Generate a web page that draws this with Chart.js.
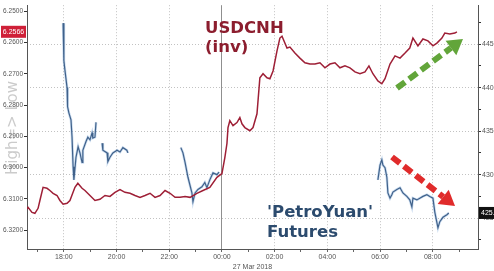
<!DOCTYPE html>
<html>
<head>
<meta charset="utf-8">
<script src="https://cdn.jsdelivr.net/npm/chart.js@4.4.0/dist/chart.umd.min.js"></script>
<style>
html, body { margin: 0; padding: 0; background: #fff; }
</style>
</head>
<body>
<canvas id="mychart" width="494" height="271"></canvas>
<script>
// times are hours from 00:00, 27 Mar 2018 (negative = 26 Mar evening)
const redHours = [-7.40,-7.36,-7.21,-7.10,-6.98,-6.91,-6.79,-6.64,-6.53,-6.41,
  -6.26,-6.15,-6.03,-5.88,-5.77,-5.58,-5.47,-5.31,-5.20,-5.01,
  -4.82,-4.63,-4.44,-4.25,-4.06,-3.87,-3.68,-3.49,-3.30,-3.11,
  -2.92,-2.73,-2.54,-2.35,-2.16,-1.97,-1.78,-1.59,-1.40,-1.21,
  -0.95,-0.72,-0.46,-0.19,0.00,0.11,0.19,0.23,0.30,0.42,
  0.57,0.68,0.76,0.87,1.06,1.18,1.33,1.44,1.56,1.71,
  1.82,1.94,2.09,2.20,2.28,2.47,2.58,2.77,2.96,3.15,
  3.34,3.53,3.72,3.91,4.10,4.29,4.48,4.67,4.86,5.05,
  5.24,5.43,5.58,5.73,5.92,6.07,6.19,6.38,6.57,6.76,
  6.95,7.13,7.25,7.44,7.63,7.82,8.01,8.16,8.35,8.46,
  8.65,8.84,8.92];
// USDCNH (left axis, inverted)
const redValues = [6.3133,6.3127,6.3143,6.3146,6.3130,6.3105,6.3063,6.3066,6.3073,6.3082,
  6.3089,6.3105,6.3117,6.3114,6.3105,6.3063,6.3050,6.3066,6.3073,6.3089,
  6.3105,6.3101,6.3089,6.3092,6.3079,6.3070,6.3079,6.3082,6.3089,6.3095,
  6.3089,6.3082,6.3095,6.3089,6.3073,6.3082,6.3095,6.3095,6.3092,6.3095,
  6.3082,6.3073,6.3063,6.3031,6.3019,6.2968,6.2923,6.2872,6.2850,6.2866,
  6.2856,6.2840,6.2860,6.2872,6.2882,6.2872,6.2828,6.2713,6.2700,6.2713,
  6.2716,6.2691,6.2627,6.2586,6.2580,6.2618,6.2615,6.2634,6.2650,6.2665,
  6.2669,6.2669,6.2665,6.2681,6.2669,6.2665,6.2681,6.2675,6.2681,6.2694,
  6.2700,6.2694,6.2675,6.2700,6.2723,6.2732,6.2716,6.2669,6.2643,6.2650,
  6.2634,6.2618,6.2586,6.2611,6.2589,6.2595,6.2611,6.2602,6.2586,6.2570,
  6.2573,6.2570,6.2566];

// PetroYuan futures (right axis), null = no trading
const blueHours = [-6.03,-6.00,-5.96,-5.88,-5.86,-5.81,-5.73,-5.69,-5.65,-5.62,-5.54,
  -5.46,-5.39,-5.31,-5.28,-5.16,-5.09,-5.01,-4.93,-4.90,-4.82,-4.78,
  -4.66,
  -4.55,-4.52,-4.36,-4.33,-4.25,-4.14,-3.98,-3.87,-3.76,-3.61,-3.57,
  -2.50,
  -1.56,-1.48,-1.40,-1.29,-1.14,-1.10,-1.02,-0.91,-0.76,-0.65,-0.57,-0.46,-0.34,-0.19,-0.11,
  3.00,
  5.92,6.00,6.07,6.11,6.19,6.26,6.30,6.38,6.45,6.49,6.64,6.76,6.87,7.02,7.13,
  7.21,7.25,7.40,7.51,7.63,7.78,7.89,8.01,8.08,8.16,8.20,8.27,8.39,8.54,8.61];
const blueValues = [447.4,443.1,442.0,440.0,437.8,437.1,436.3,434.3,430.9,429.4,432.0,
  433.2,432.5,431.4,432.8,433.8,434.3,434.0,434.8,434.2,434.3,436.0,
  null,
  433.6,432.8,432.5,431.5,432.0,432.5,432.8,432.6,433.1,432.8,432.5,
  null,
  433.1,432.5,431.4,429.7,427.9,426.9,427.9,428.3,428.6,429.1,428.5,429.4,430.2,430.0,430.3,
  null,
  429.4,431.1,431.7,431.1,430.8,429.7,427.9,427.3,427.7,428.0,428.3,428.5,427.9,427.5,427.1,
  426.3,427.3,427.1,427.3,427.5,427.7,427.5,427.3,425.7,424.5,423.9,424.6,425.1,425.4,425.6];

const hourTicks = [-7,-6,-5,-4,-3,-2,-1,0,1,2,3,4,5,6,7,8,9];
const leftTicks = [6.25,6.26,6.27,6.28,6.29,6.30,6.31,6.32];
const rightTicks = [422.5,425,427.5,430,432.5,435,437.5,440,442.5,445,447.5];

const redPts = redHours.map((h, i) => ({ x: h, y: redValues[i] }));
const bluePts = blueHours.map((h, i) => ({ x: h, y: blueValues[i] }));

const tickFont = { family: 'Liberation Sans', size: 7 };

function arrow(ctx, x1, y1, x2, y2, color) {
  const ang = Math.atan2(y2 - y1, x2 - x1);
  const head = 15;
  const bx = x2 - head * Math.cos(ang), by = y2 - head * Math.sin(ang);
  ctx.save();
  ctx.strokeStyle = color;
  ctx.fillStyle = color;
  ctx.lineWidth = 6;
  ctx.setLineDash([10, 5]);
  ctx.beginPath();
  ctx.moveTo(x1, y1);
  ctx.lineTo(bx, by);
  ctx.stroke();
  ctx.setLineDash([]);
  ctx.beginPath();
  ctx.moveTo(x2, y2);
  ctx.lineTo(bx + 9 * Math.sin(ang), by - 9 * Math.cos(ang));
  ctx.lineTo(bx - 9 * Math.sin(ang), by + 9 * Math.cos(ang));
  ctx.closePath();
  ctx.fill();
  ctx.restore();
}

const extras = {
  id: 'extras',
  afterDraw(chart) {
    const { ctx, scales } = chart;
    ctx.save();

    // side note
    ctx.save();
    ctx.translate(13, 128);
    ctx.rotate(-Math.PI / 2);
    ctx.font = '15px "DejaVu Sans"';
    ctx.fillStyle = 'rgba(140,140,140,0.45)';
    ctx.textAlign = 'center';
    ctx.textBaseline = 'middle';
    ctx.fillText('High=> Low', 0, 0);
    ctx.restore();

    // titles
    ctx.font = 'bold 16.5px "DejaVu Sans"';
    ctx.textAlign = 'left';
    ctx.textBaseline = 'alphabetic';
    ctx.fillStyle = '#8c1d2e';
    ctx.fillText('USDCNH', 205, 33);
    ctx.fillText('(inv)', 205, 52);
    ctx.fillStyle = '#2c4b6e';
    ctx.fillText("'PetroYuan'", 267, 217);
    ctx.fillText('Futures', 267, 237);

    arrow(ctx, 397, 88, 463, 39, '#62a53a');
    arrow(ctx, 392, 157, 455, 206, '#e02b2b');

    // last value boxes
    ctx.font = '7px "Liberation Sans"';
    ctx.textBaseline = 'middle';
    const lastRed = redValues[redValues.length - 1];
    const yr = scales.y.getPixelForValue(lastRed);
    ctx.fillStyle = '#cf2038';
    ctx.fillRect(1, yr - 6, 25, 12);
    ctx.fillStyle = '#fff';
    ctx.textAlign = 'center';
    ctx.fillText(lastRed.toFixed(4), 13.5, yr);

    const lastBlue = blueValues[blueValues.length - 1];
    const yb = scales.y1.getPixelForValue(lastBlue);
    ctx.fillStyle = '#111';
    ctx.fillRect(479, yb - 6, 15, 12);
    ctx.fillStyle = '#fff';
    ctx.textAlign = 'left';
    ctx.fillText(lastBlue.toFixed(1), 481, yb);
    ctx.restore();
  }
};

const config = {
  type: 'line',
  data: {
    datasets: [
      { data: redPts, yAxisID: 'y', borderColor: '#9e1f36', borderWidth: 1.5, pointRadius: 0, tension: 0 },
      { data: bluePts, yAxisID: 'y1', borderColor: 'rgba(120,165,215,0.4)', borderWidth: 2.6, pointRadius: 0, tension: 0, spanGaps: false },
      { data: bluePts, yAxisID: 'y1', borderColor: '#1b3558', borderWidth: 1.2, pointRadius: 0, tension: 0, spanGaps: false }
    ]
  },
  options: {
    responsive: false,
    animation: false,
    layout: { padding: { top: 4, left: 0, right: 0, bottom: 0 } },
    plugins: { legend: { display: false }, tooltip: { enabled: false } },
    scales: {
      x: {
        type: 'linear', min: -7.4, max: 9.72,
        afterBuildTicks: s => { s.ticks = hourTicks.map(v => ({ value: v })); },
        afterFit: s => { s.height = 22; },
        ticks: {
          autoSkip: false, maxRotation: 0, padding: 1, color: '#555', font: tickFont,
          callback: v => v % 2 === 0 ? String((v + 24) % 24).padStart(2, '0') + ':00' : ''
        },
        grid: {
          color: c => !c.tick ? '#c2c2c2' : (c.tick.value === 0 ? '#8f8f8f' : (c.tick.value % 2 === 0 ? '#c2c2c2' : 'rgba(0,0,0,0)')),
          tickColor: '#666', tickLength: 3
        },
        border: { color: '#555', dash: c => (c.tick && c.tick.value === 0) ? [] : [1, 2] },
        title: { display: true, text: '27 Mar 2018', color: '#555', font: tickFont, padding: 0 }
      },
      y: {
        position: 'left', reverse: true, min: 6.2481, max: 6.326,
        afterBuildTicks: s => { s.ticks = leftTicks.map(v => ({ value: v })); },
        afterFit: s => { s.width = 27; },
        ticks: { padding: 1, color: '#555', font: { family: 'Liberation Sans', size: 6.5 }, callback: v => v.toFixed(4) },
        grid: { drawOnChartArea: false, tickLength: 3, tickColor: '#333' },
        border: { color: '#555' }
      },
      y1: {
        position: 'right', min: 421.46, max: 449.46,
        afterBuildTicks: s => { s.ticks = rightTicks.map(v => ({ value: v })); },
        afterFit: s => { s.width = 16; },
        ticks: { padding: 1, color: '#555', font: tickFont, callback: v => v % 5 === 0 ? String(v) : '' },
        grid: {
          color: c => (c.tick && c.tick.value % 5 === 0) ? '#c2c2c2' : 'rgba(0,0,0,0)',
          tickLength: 3, tickColor: '#333'
        },
        border: { color: '#555', dash: [1, 2] }
      }
    }
  },
  plugins: [extras]
};

const myChart = new Chart(document.getElementById('mychart'), config);
</script>
</body>
</html>
